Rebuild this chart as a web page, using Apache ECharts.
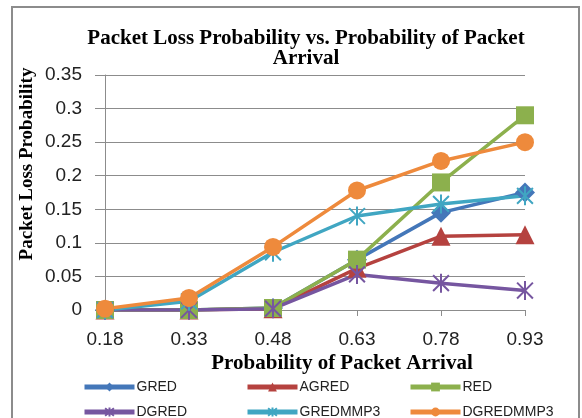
<!DOCTYPE html>
<html>
<head>
<meta charset="utf-8">
<style>
  html, body { margin: 0; padding: 0; background: #fff; }
  #chart { width: 582px; height: 418px; }
</style>
<script src="https://cdn.jsdelivr.net/npm/echarts@6/dist/echarts.min.js"></script>
</head>
<body>
<div id="chart"></div>
<script>
// Arrival probabilities on the x axis
const categories = ['0.18', '0.33', '0.48', '0.63', '0.78', '0.93'];

// Packet loss probability per scheme
const gred      = [0, 0, 0.003, 0.075, 0.145, 0.175];
const agred     = [0, 0, 0.002, 0.062, 0.110, 0.112];
const red       = [0, 0, 0.003, 0.075, 0.190, 0.290];
const dgred     = [0, 0, 0.002, 0.053, 0.040, 0.029];
const gredmmp3  = [0, 0.013, 0.086, 0.140, 0.158, 0.170];
const dgredmmp3 = [0.002, 0.018, 0.094, 0.178, 0.222, 0.250];

const seriesNames = ['GRED', 'AGRED', 'RED', 'DGRED', 'GREDMMP3', 'DGREDMMP3'];
const seriesData = [gred, agred, red, dgred, gredmmp3, dgredmmp3];

const yTicks = { min: 0, max: 0.35, interval: 0.05 };

const colors = ['#4477b9', '#b5423f', '#8cb04d', '#7656a0', '#40a6c2', '#ee8a3c'];
const asterisk = 'path://M0,0L10,10M10,0L0,10M5,-1L5,11';
const symbols = ['diamond', 'triangle', 'rect', asterisk, asterisk, 'circle'];
const symbolSizes = [20, 19, 18, 19, 19, 18];

const series = seriesNames.map((name, i) => {
  const stroked = symbols[i] === asterisk;
  return {
    name,
    type: 'line',
    data: seriesData[i],
    symbol: symbols[i],
    symbolSize: symbolSizes[i],
    symbolKeepAspect: true,
    lineStyle: { width: 3.5, color: colors[i] },
    itemStyle: stroked
      ? { color: colors[i], borderColor: colors[i], borderWidth: 2 }
      : { color: colors[i] },
    emphasis: { disabled: true },
    animation: false
  };
});

// legend laid out as a 3 x 2 grid
const legendCols = [77, 240, 403];
const legendRows = [375, 400];
const legends = seriesNames.map((name, i) => ({
  data: [name],
  left: legendCols[i % 3],
  top: legendRows[Math.floor(i / 3)],
  itemWidth: 50,
  itemHeight: 11,
  lineStyle: { width: 5 },
  textStyle: { fontFamily: 'Liberation Sans', fontSize: 14, color: '#222', padding: [0, 0, 0, -3] },
  selectedMode: false
}));

const chart = echarts.init(document.getElementById('chart'), null, { renderer: 'canvas' });
chart.setOption({
  animation: false,
  color: colors,
  title: {
    text: 'Packet Loss Probability vs. Probability of Packet\nArrival',
    left: 301,
    top: 24,
    textAlign: 'center',
    textStyle: {
      fontFamily: 'Liberation Serif', fontWeight: 'bold', color: '#000',
      fontSize: 21, lineHeight: 20
    }
  },
  grid: { left: 105, right: 57, top: 75, bottom: 108, containLabel: false },
  xAxis: {
    type: 'category',
    data: categories,
    boundaryGap: false,
    axisLine: { lineStyle: { color: '#8c8c8c', width: 1 } },
    axisTick: { show: true, length: 6, alignWithLabel: true, lineStyle: { color: '#8c8c8c' } },
    axisLabel: { fontFamily: 'Liberation Sans', fontSize: 19, color: '#222', margin: 20 },
    splitLine: { show: false }
  },
  yAxis: {
    type: 'value',
    min: yTicks.min,
    max: yTicks.max,
    interval: yTicks.interval,
    axisLine: { show: true, lineStyle: { color: '#8c8c8c', width: 1 } },
    axisTick: { show: true, length: 10, lineStyle: { color: '#8c8c8c' } },
    axisLabel: {
      fontFamily: 'Liberation Sans', fontSize: 19, color: '#222', margin: 23,
      formatter: v => String(+v.toFixed(2))
    },
    splitLine: { show: true, lineStyle: { color: '#8c8c8c', width: 1 } }
  },
  legend: legends,
  series,
  graphic: [
    {
      type: 'rect',
      shape: { x: 12, y: 7, width: 567, height: 430 },
      style: { fill: 'none', stroke: '#8c8c8c', lineWidth: 2 },
      silent: true
    },
    {
      type: 'text',
      x: 27, y: 164,
      rotation: Math.PI / 2,
      style: {
        text: 'Packet Loss Probability', fontSize: 19,
        fontFamily: 'Liberation Serif', fontWeight: 'bold', fill: '#000',
        align: 'center', verticalAlign: 'middle'
      },
      silent: true
    },
    {
      type: 'text',
      x: 342, y: 364,
      style: {
        text: 'Probability of Packet Arrival', fontSize: 21,
        fontFamily: 'Liberation Serif', fontWeight: 'bold', fill: '#000',
        align: 'center', verticalAlign: 'middle'
      },
      silent: true
    }
  ]
});
</script>
</body>
</html>
